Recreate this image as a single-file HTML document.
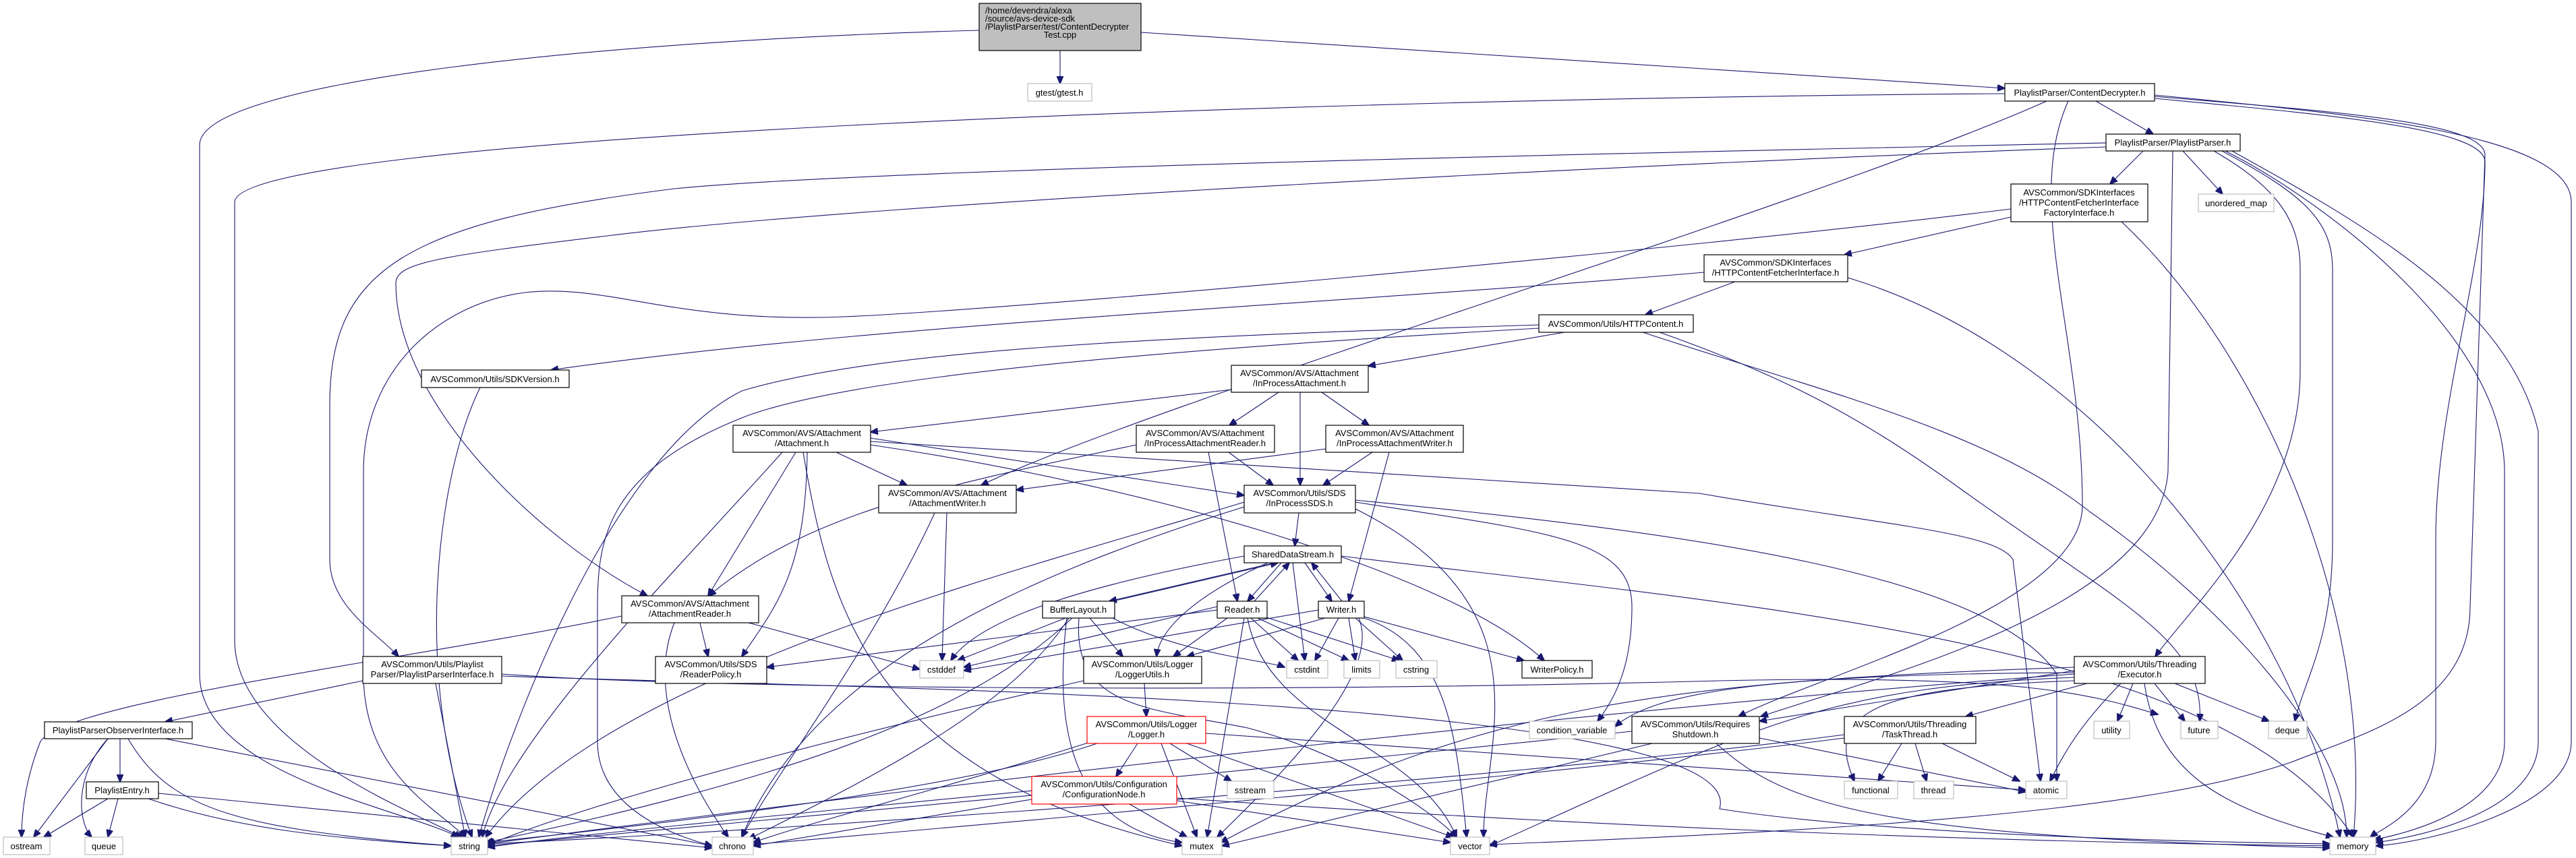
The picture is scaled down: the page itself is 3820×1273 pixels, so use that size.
<!DOCTYPE html>
<html><head><meta charset="utf-8"><style>
html,body{margin:0;padding:0;background:#fff;}
svg{display:block;}
text{font-family:"Liberation Sans",Arial,sans-serif;font-size:13px;fill:#000;}
.n{fill:#fff;stroke:#000;stroke-width:1.2;}
.s{fill:#fff;stroke:#bfbfbf;stroke-width:1.2;}
.r{fill:#fff;stroke:#ff0000;stroke-width:1.2;}
.e path{fill:none;stroke:#191970;stroke-width:1.1;}
</style></head><body>
<svg width="3820" height="1273" viewBox="0 0 3820 1273" xmlns="http://www.w3.org/2000/svg">
<defs><marker id="a" markerWidth="12" markerHeight="10" refX="11" refY="5" orient="auto" markerUnits="userSpaceOnUse"><path d="M0,0 L12,5 L0,10 z" fill="#191970" stroke="#191970"/></marker></defs>
<g class="e">
<path marker-end="url(#a)" d="M1572,75 L1572,124"/>
<path marker-end="url(#a)" d="M1692,48 L2973,131"/>
<path marker-end="url(#a)" d="M1452,45 C900,60 296,120 296,215 L296,1000 C296,1150 600,1200 680,1242"/>
<path marker-end="url(#a)" d="M2973,139 C2000,145 348,200 348,300 L348,950 C348,1100 600,1200 685,1242"/>
<path marker-end="url(#a)" d="M3108,150 L3193,199"/>
<path marker-end="url(#a)" d="M3035,150 C2700,300 1700,600 1455,720"/>
<path marker-end="url(#a)" d="M3067,150 C3000,300 3088,500 3088,750 C3088,900 2700,1000 2578,1063"/>
<path marker-end="url(#a)" d="M3195,141 C3500,170 3813,200 3813,300 L3813,1100 C3813,1200 3600,1250 3523,1255"/>
<path marker-end="url(#a)" d="M3195,143 C3450,165 3685,180 3685,230 L3663,900 C3663,1050 3500,1090 3400,1130 C3200,1200 2800,1230 2209,1253"/>
<path marker-end="url(#a)" d="M3195,146 C3450,170 3685,190 3685,240 C3685,400 3612,600 3612,800 L3612,1100 C3612,1200 3530,1230 3515,1242"/>
<path marker-end="url(#a)" d="M3178,224 L3129,273"/>
<path marker-end="url(#a)" d="M3237,224 L3296,288"/>
<path marker-end="url(#a)" d="M3123,212 C2500,225 1300,250 1000,280 C600,330 489,400 489,600 L489,830 C489,900 560,940 591,974"/>
<path marker-end="url(#a)" d="M3123,218 C2500,240 1300,300 900,350 C650,380 587,390 587,420 C587,600 800,800 960,884"/>
<path marker-end="url(#a)" d="M3283,224 C3380,280 3411,330 3411,400 L3411,550 C3411,750 3250,900 3196,974"/>
<path marker-end="url(#a)" d="M3295,224 C3420,290 3459,330 3459,400 L3459,800 C3459,950 3420,1000 3403,1070"/>
<path marker-end="url(#a)" d="M3310,224 C3500,330 3720,450 3764,640 L3764,1100 C3764,1200 3600,1240 3523,1250"/>
<path marker-end="url(#a)" d="M3300,224 C3450,300 3714,500 3714,700 L3714,1100 C3714,1190 3600,1230 3520,1246"/>
<path marker-end="url(#a)" d="M3222,224 L3215,700 C3200,900 2800,1000 2611,1063"/>
<path marker-end="url(#a)" d="M2982,322 L2735,378"/>
<path marker-end="url(#a)" d="M2982,310 C2500,370 1500,460 1250,470 C1000,480 900,420 779,434 C650,450 539,550 539,700 L539,1000 C539,1150 650,1200 690,1242"/>
<path marker-end="url(#a)" d="M3146,329 C3350,520 3520,900 3490,1242"/>
<path marker-end="url(#a)" d="M2573,418 L2440,467"/>
<path marker-end="url(#a)" d="M2527,404 C2000,450 1300,480 817,549"/>
<path marker-end="url(#a)" d="M2740,412 C3100,520 3400,900 3470,1242"/>
<path marker-end="url(#a)" d="M712,575 C650,700 610,1000 700,1242"/>
<path marker-end="url(#a)" d="M2320,493 L2029,543"/>
<path marker-end="url(#a)" d="M2282,482 C1700,500 1300,520 1100,580 C900,680 750,1100 710,1242"/>
<path marker-end="url(#a)" d="M2282,487 C1700,520 1250,560 1100,620 C900,700 886,800 886,900 L886,1100 C886,1200 1000,1240 1056,1255"/>
<path marker-end="url(#a)" d="M2461,493 C2650,560 2760,620 2900,720 C3150,900 3270,950 3262,1070"/>
<path marker-end="url(#a)" d="M2436,493 C2700,580 2950,640 3100,760 C3300,900 3480,1100 3480,1242"/>
<path marker-end="url(#a)" d="M1896,582 L1823,631"/>
<path marker-end="url(#a)" d="M1960,582 L2030,631"/>
<path marker-end="url(#a)" d="M1928,582 L1928,720"/>
<path marker-end="url(#a)" d="M1826,578 L1291,641"/>
<path marker-end="url(#a)" d="M1180,671 L1050,884"/>
<path marker-end="url(#a)" d="M1197,671 C1195,850 1150,900 1100,974"/>
<path marker-end="url(#a)" d="M1160,671 C1000,850 750,1100 715,1242"/>
<path marker-end="url(#a)" d="M1191,671 C1230,900 1290,1150 1753,1255"/>
<path marker-end="url(#a)" d="M1240,671 L1345,720"/>
<path marker-end="url(#a)" d="M1291,650 L1845,735"/>
<path marker-end="url(#a)" d="M1291,660 C1700,720 2150,850 2290,980"/>
<path marker-end="url(#a)" d="M1291,655 L2520,732 C2800,780 2960,790 2985,830 L3026,1159"/>
<path marker-end="url(#a)" d="M1822,671 L1888,720"/>
<path marker-end="url(#a)" d="M1792,671 L1835,892"/>
<path marker-end="url(#a)" d="M1685,660 C1400,720 1200,760 1051,884"/>
<path marker-end="url(#a)" d="M2035,671 L1962,720"/>
<path marker-end="url(#a)" d="M2060,671 L2000,892"/>
<path marker-end="url(#a)" d="M1966,666 L1507,727"/>
<path marker-end="url(#a)" d="M1404,761 L1397,980"/>
<path marker-end="url(#a)" d="M1386,761 C1300,950 1150,1150 1100,1242"/>
<path marker-end="url(#a)" d="M1926,761 L1920,810"/>
<path marker-end="url(#a)" d="M1845,745 C1500,850 900,1000 720,1242"/>
<path marker-end="url(#a)" d="M1845,752 C1500,860 1200,1000 1100,1242"/>
<path marker-end="url(#a)" d="M2010,755 C2300,900 2200,1100 2200,1242"/>
<path marker-end="url(#a)" d="M2010,745 C2300,790 2420,800 2420,900 C2420,980 2400,1030 2369,1070"/>
<path marker-end="url(#a)" d="M2010,742 C2500,790 2950,850 3050,1000 L3050,1159"/>
<path marker-end="url(#a)" d="M1890,835 L1645,892"/>
<path marker-end="url(#a)" d="M1650,892 L1895,835"/>
<path marker-end="url(#a)" d="M1900,835 L1850,892"/>
<path marker-end="url(#a)" d="M1860,892 L1912,835"/>
<path marker-end="url(#a)" d="M1935,835 L1975,892"/>
<path marker-end="url(#a)" d="M1990,892 L1945,835"/>
<path marker-end="url(#a)" d="M1845,825 C1600,870 1450,920 1410,980"/>
<path marker-end="url(#a)" d="M1917,835 L1935,980"/>
<path marker-end="url(#a)" d="M1880,835 C1780,880 1720,930 1715,974"/>
<path marker-end="url(#a)" d="M1989,825 C2600,900 3300,950 3490,1242"/>
<path marker-end="url(#a)" d="M1580,917 L1420,980"/>
<path marker-end="url(#a)" d="M1616,917 L1665,974"/>
<path marker-end="url(#a)" d="M1650,917 C1750,970 1880,980 1905,990"/>
<path marker-end="url(#a)" d="M1590,917 C1450,1050 1200,1150 720,1250"/>
<path marker-end="url(#a)" d="M1585,917 C1500,1050 1300,1150 1110,1245"/>
<path marker-end="url(#a)" d="M1582,917 C1560,1100 1600,1230 1753,1250"/>
<path marker-end="url(#a)" d="M1600,917 C1590,1050 1700,1050 1850,1080 C2000,1120 2120,1200 2160,1242"/>
<path marker-end="url(#a)" d="M1805,900 L1429,990"/>
<path marker-end="url(#a)" d="M1820,917 L1740,974"/>
<path marker-end="url(#a)" d="M1855,917 L1925,980"/>
<path marker-end="url(#a)" d="M1865,917 L2000,980"/>
<path marker-end="url(#a)" d="M1875,915 L2075,980"/>
<path marker-end="url(#a)" d="M1845,917 L1790,1242"/>
<path marker-end="url(#a)" d="M1850,917 C1880,1080 2100,1100 2160,1242"/>
<path marker-end="url(#a)" d="M1805,905 L1137,990"/>
<path marker-end="url(#a)" d="M1955,905 L1429,995"/>
<path marker-end="url(#a)" d="M1965,917 L1760,974"/>
<path marker-end="url(#a)" d="M1985,917 L1950,980"/>
<path marker-end="url(#a)" d="M2000,917 L2010,980"/>
<path marker-end="url(#a)" d="M2010,917 L2080,980"/>
<path marker-end="url(#a)" d="M2023,915 L2260,980"/>
<path marker-end="url(#a)" d="M2023,917 C2150,960 2160,1100 2175,1242"/>
<path marker-end="url(#a)" d="M2015,917 C2050,1000 1900,1150 1805,1242"/>
<path marker-end="url(#a)" d="M1697,1014 L1700,1063"/>
<path marker-end="url(#a)" d="M1607,1010 C1300,1080 900,1180 720,1255"/>
<path marker-end="url(#a)" d="M1687,1103 L1655,1152"/>
<path marker-end="url(#a)" d="M1735,1103 L1826,1159"/>
<path marker-end="url(#a)" d="M1722,1103 L1775,1242"/>
<path marker-end="url(#a)" d="M1760,1103 L2155,1242"/>
<path marker-end="url(#a)" d="M1627,1103 C1400,1180 900,1230 722,1250"/>
<path marker-end="url(#a)" d="M1620,1100 C1400,1170 1200,1220 1117,1250"/>
<path marker-end="url(#a)" d="M1788,1088 C2400,1130 2800,1160 3004,1172"/>
<path marker-end="url(#a)" d="M1675,1193 L1760,1242"/>
<path marker-end="url(#a)" d="M1745,1188 L2151,1250"/>
<path marker-end="url(#a)" d="M1530,1180 L723,1255"/>
<path marker-end="url(#a)" d="M1530,1186 L1117,1255"/>
<path marker-end="url(#a)" d="M1745,1184 C2400,1230 3000,1250 3455,1255"/>
<path marker-end="url(#a)" d="M538,1010 L245,1071"/>
<path marker-end="url(#a)" d="M646,1014 L690,1242"/>
<path marker-end="url(#a)" d="M744,1000 C1000,1020 1800,1030 2550,1010 C3000,1000 3100,1030 3200,1060"/>
<path marker-end="url(#a)" d="M744,1003 C1200,1020 2600,1030 2550,1200 C2800,1240 3300,1250 3455,1252"/>
<path marker-end="url(#a)" d="M922,914 C600,980 100,1040 60,1100 C40,1150 32,1200 32,1242"/>
<path marker-end="url(#a)" d="M1038,924 L1050,974"/>
<path marker-end="url(#a)" d="M1000,924 C950,1050 1050,1200 1080,1242"/>
<path marker-end="url(#a)" d="M1110,924 L1364,993"/>
<path marker-end="url(#a)" d="M178,1096 L178,1160"/>
<path marker-end="url(#a)" d="M160,1096 L50,1242"/>
<path marker-end="url(#a)" d="M160,1096 C110,1150 115,1220 136,1242"/>
<path marker-end="url(#a)" d="M190,1096 C250,1200 350,1230 669,1255"/>
<path marker-end="url(#a)" d="M245,1096 L1056,1255"/>
<path marker-end="url(#a)" d="M160,1185 L65,1242"/>
<path marker-end="url(#a)" d="M175,1185 L160,1242"/>
<path marker-end="url(#a)" d="M220,1185 C350,1230 500,1245 669,1255"/>
<path marker-end="url(#a)" d="M235,1177 L1056,1258"/>
<path marker-end="url(#a)" d="M3076,995 L2609,1070"/>
<path marker-end="url(#a)" d="M3095,1014 L2915,1063"/>
<path marker-end="url(#a)" d="M3145,1014 C3080,1080 3060,1120 3040,1159"/>
<path marker-end="url(#a)" d="M3163,1014 L3140,1070"/>
<path marker-end="url(#a)" d="M3195,1014 L3240,1070"/>
<path marker-end="url(#a)" d="M3225,1014 L3365,1070"/>
<path marker-end="url(#a)" d="M3180,1014 C3200,1150 3300,1200 3460,1242"/>
<path marker-end="url(#a)" d="M3076,1010 C2800,1020 2700,1050 2750,1159"/>
<path marker-end="url(#a)" d="M3076,998 C2600,1000 2450,1030 2395,1078"/>
<path marker-end="url(#a)" d="M3076,990 C2500,1010 2200,1040 1810,1250"/>
<path marker-end="url(#a)" d="M3076,1000 C2400,1050 1500,1150 722,1252"/>
<path marker-end="url(#a)" d="M3076,1005 C2700,1020 2600,1080 2209,1255"/>
<path marker-end="url(#a)" d="M2450,1103 L1812,1255"/>
<path marker-end="url(#a)" d="M2545,1103 C2650,1200 2800,1240 3455,1258"/>
<path marker-end="url(#a)" d="M2609,1095 L3004,1175"/>
<path marker-end="url(#a)" d="M2420,1085 C1800,1150 900,1230 723,1257"/>
<path marker-end="url(#a)" d="M2820,1103 L2785,1159"/>
<path marker-end="url(#a)" d="M2840,1103 L2857,1159"/>
<path marker-end="url(#a)" d="M2880,1103 L2995,1159"/>
<path marker-end="url(#a)" d="M2735,1095 C2300,1150 1500,1220 1117,1253"/>
<path marker-end="url(#a)" d="M2735,1090 C2200,1160 1200,1230 723,1252"/>
</g>
<g>
<rect x="1452" y="5" width="240" height="70" fill="#bfbfbf" stroke="#000" stroke-width="1.2"/>
<text x="1461" y="20">/home/devendra/alexa</text>
<text x="1461" y="32">/source/avs-device-sdk</text>
<text x="1461" y="44">/PlaylistParser/test/ContentDecrypter</text>
<text x="1572" y="56" text-anchor="middle">Test.cpp</text>
<g text-anchor="middle">
<rect class="s" x="1524" y="124" width="95" height="26"/><text x="1571" y="142">gtest/gtest.h</text>
<rect class="n" x="2973" y="124" width="222" height="26"/><text x="3084" y="142">PlaylistParser/ContentDecrypter.h</text>
<rect class="n" x="3123" y="199" width="199" height="25"/><text x="3222" y="216">PlaylistParser/PlaylistParser.h</text>
<rect class="n" x="2982" y="273" width="203" height="56"/><text x="3083" y="290">AVSCommon/SDKInterfaces</text><text x="3083" y="305">/HTTPContentFetcherInterface</text><text x="3083" y="320">FactoryInterface.h</text>
<rect class="s" x="3260" y="288" width="112" height="26"/><text x="3316" y="306">unordered_map</text>
<rect class="n" x="2527" y="378" width="213" height="40"/><text x="2633" y="394">AVSCommon/SDKInterfaces</text><text x="2633" y="409">/HTTPContentFetcherInterface.h</text>
<rect class="n" x="2282" y="467" width="229" height="26"/><text x="2396" y="485">AVSCommon/Utils/HTTPContent.h</text>
<rect class="n" x="625" y="549" width="219" height="26"/><text x="734" y="567">AVSCommon/Utils/SDKVersion.h</text>
<rect class="n" x="1826" y="542" width="203" height="40"/><text x="1927" y="558">AVSCommon/AVS/Attachment</text><text x="1927" y="573">/InProcessAttachment.h</text>
<rect class="n" x="1087" y="631" width="204" height="40"/><text x="1189" y="647">AVSCommon/AVS/Attachment</text><text x="1189" y="662">/Attachment.h</text>
<rect class="n" x="1685" y="631" width="205" height="40"/><text x="1787" y="647">AVSCommon/AVS/Attachment</text><text x="1787" y="662">/InProcessAttachmentReader.h</text>
<rect class="n" x="1966" y="631" width="204" height="40"/><text x="2068" y="647">AVSCommon/AVS/Attachment</text><text x="2068" y="662">/InProcessAttachmentWriter.h</text>
<rect class="n" x="1303" y="720" width="204" height="41"/><text x="1405" y="736">AVSCommon/AVS/Attachment</text><text x="1405" y="751">/AttachmentWriter.h</text>
<rect class="n" x="1845" y="720" width="165" height="41"/><text x="1927" y="736">AVSCommon/Utils/SDS</text><text x="1927" y="751">/InProcessSDS.h</text>
<rect class="n" x="1845" y="810" width="144" height="25"/><text x="1917" y="827">SharedDataStream.h</text>
<rect class="n" x="922" y="884" width="203" height="40"/><text x="1023" y="900">AVSCommon/AVS/Attachment</text><text x="1023" y="915">/AttachmentReader.h</text>
<rect class="n" x="1546" y="892" width="107" height="25"/><text x="1599" y="909">BufferLayout.h</text>
<rect class="n" x="1805" y="892" width="74" height="25"/><text x="1842" y="909">Reader.h</text>
<rect class="n" x="1955" y="892" width="68" height="25"/><text x="1989" y="909">Writer.h</text>
<rect class="n" x="538" y="974" width="206" height="40"/><text x="641" y="990">AVSCommon/Utils/Playlist</text><text x="641" y="1005">Parser/PlaylistParserInterface.h</text>
<rect class="n" x="972" y="974" width="165" height="40"/><text x="1054" y="990">AVSCommon/Utils/SDS</text><text x="1054" y="1005">/ReaderPolicy.h</text>
<rect class="n" x="1607" y="974" width="175" height="40"/><text x="1694" y="990">AVSCommon/Utils/Logger</text><text x="1694" y="1005">/LoggerUtils.h</text>
<rect class="n" x="3076" y="974" width="194" height="40"/><text x="3173" y="990">AVSCommon/Utils/Threading</text><text x="3173" y="1005">/Executor.h</text>
<rect class="s" x="1364" y="980" width="65" height="26"/><text x="1396" y="998">cstddef</text>
<rect class="s" x="1908" y="980" width="61" height="26"/><text x="1938" y="998">cstdint</text>
<rect class="s" x="1993" y="980" width="53" height="26"/><text x="2019" y="998">limits</text>
<rect class="s" x="2070" y="980" width="61" height="26"/><text x="2100" y="998">cstring</text>
<rect class="n" x="2257" y="980" width="104" height="26"/><text x="2309" y="998">WriterPolicy.h</text>
<rect class="n" x="66" y="1071" width="219" height="25"/><text x="175" y="1088">PlaylistParserObserverInterface.h</text>
<rect class="r" x="1612" y="1063" width="176" height="40"/><text x="1700" y="1079">AVSCommon/Utils/Logger</text><text x="1700" y="1094">/Logger.h</text>
<rect class="s" x="2268" y="1070" width="127" height="26"/><text x="2331" y="1088">condition_variable</text>
<rect class="n" x="2420" y="1063" width="189" height="40"/><text x="2514" y="1079">AVSCommon/Utils/Requires</text><text x="2514" y="1094">Shutdown.h</text>
<rect class="n" x="2735" y="1063" width="195" height="40"/><text x="2832" y="1079">AVSCommon/Utils/Threading</text><text x="2832" y="1094">/TaskThread.h</text>
<rect class="s" x="3105" y="1070" width="53" height="26"/><text x="3131" y="1088">utility</text>
<rect class="s" x="3234" y="1070" width="55" height="26"/><text x="3261" y="1088">future</text>
<rect class="s" x="3364" y="1070" width="57" height="26"/><text x="3392" y="1088">deque</text>
<rect class="n" x="128" y="1160" width="107" height="25"/><text x="181" y="1177">PlaylistEntry.h</text>
<rect class="r" x="1530" y="1152" width="215" height="41"/><text x="1637" y="1168">AVSCommon/Utils/Configuration</text><text x="1637" y="1183">/ConfigurationNode.h</text>
<rect class="s" x="1820" y="1159" width="69" height="26"/><text x="1854" y="1177">sstream</text>
<rect class="s" x="2735" y="1159" width="79" height="26"/><text x="2774" y="1177">functional</text>
<rect class="s" x="2838" y="1159" width="59" height="26"/><text x="2867" y="1177">thread</text>
<rect class="s" x="3004" y="1159" width="61" height="26"/><text x="3034" y="1177">atomic</text>
<rect class="s" x="5" y="1242" width="69" height="26"/><text x="39" y="1260">ostream</text>
<rect class="s" x="126" y="1242" width="56" height="26"/><text x="154" y="1260">queue</text>
<rect class="s" x="669" y="1242" width="54" height="26"/><text x="696" y="1260">string</text>
<rect class="s" x="1056" y="1242" width="61" height="26"/><text x="1086" y="1260">chrono</text>
<rect class="s" x="1753" y="1242" width="59" height="26"/><text x="1782" y="1260">mutex</text>
<rect class="s" x="2151" y="1242" width="58" height="26"/><text x="2180" y="1260">vector</text>
<rect class="s" x="3455" y="1242" width="68" height="26"/><text x="3489" y="1260">memory</text>
</g></g>
</svg>
</body></html>
